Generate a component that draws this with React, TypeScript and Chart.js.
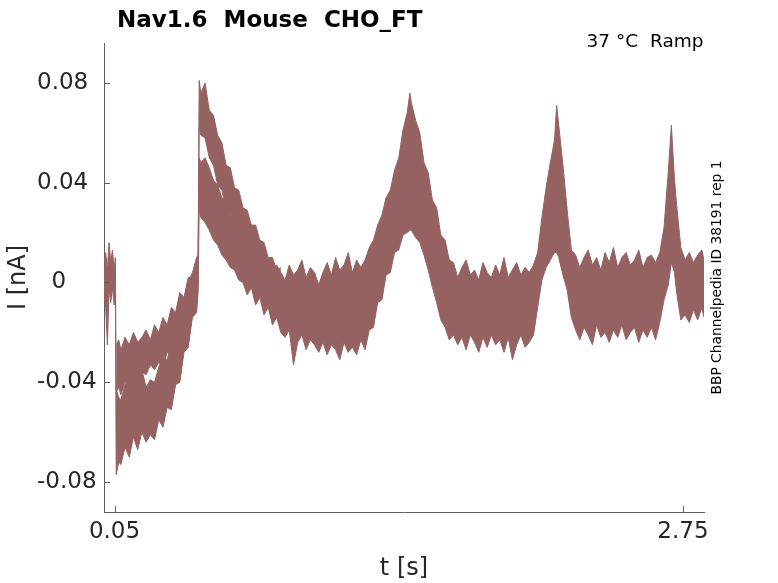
import React, { useEffect, useRef } from 'react';
import { Chart, registerables } from 'chart.js';

Chart.register(...registerables);

// Current traces: times in ms, currents in pA (converted to s / nA for the axes)
const mainTimeMs = [
  0, 8, 16, 24, 32, 40, 48, 54, 58, 70,
  80, 100, 120, 140, 160, 180, 200, 220, 240, 260,
  280, 300, 320, 340, 360, 380, 400, 420, 440, 447,
  452, 460, 480, 500, 520, 540, 560, 580, 600, 620,
  640, 660, 680, 700, 720, 740, 760, 780, 800, 820,
  840, 860, 880, 900, 920, 940, 960, 980, 1000, 1020,
  1040, 1060, 1080, 1100, 1120, 1140, 1160, 1180, 1200, 1220,
  1240, 1260, 1280, 1300, 1320, 1340, 1360, 1380, 1400, 1420,
  1440, 1453, 1460, 1480, 1500, 1520, 1540, 1560, 1580, 1600,
  1620, 1640, 1660, 1680, 1700, 1720, 1740, 1760, 1780, 1800,
  1820, 1840, 1860, 1880, 1900, 1920, 1940, 1960, 1980, 2000,
  2020, 2040, 2060, 2080, 2100, 2120, 2140, 2150, 2160, 2180,
  2200, 2220, 2240, 2260, 2280, 2300, 2320, 2340, 2360, 2380,
  2400, 2420, 2440, 2460, 2480, 2500, 2520, 2540, 2560, 2580,
  2600, 2620, 2640, 2660, 2680, 2695, 2710, 2720, 2740, 2760,
  2780, 2800, 2820, 2840, 2850,
];

// upper edge of the main bundle of sweeps (pA)
const mainTopPA = [
  8, 12, 5, 16, 8, 13, 5, 10, -43, -46,
  -47, -41, -40, -38, -39, -35, -42, -39, -40, -34,
  -30, -31, -24, -21, -13, -8, 0, 4, 10, 11,
  50, 48, 50, 46, 41, 39, 34, 32, 27, 27,
  22, 21, 17, 16, 12, 12, 8, 9, 6, 7,
  4, 1, 7, 3, 5, 9, 2, 6, 4, -1,
  4, 8, 3, 10, 5, 7, 12, 4, 9, 6,
  9, 14, 17, 23, 27, 34, 37, 45, 50, 61,
  68, 76, 72, 65, 60, 48, 44, 33, 30, 19,
  17, 9, 8, 2, 6, 9, 3, 5, 1, 8,
  4, 2, 7, 3, 10, 2, 5, 8, 3, 6,
  4, 7, 12, 26, 38, 48, 57, 71, 63, 47,
  29, 13, 11, 6, 10, 13, 7, 10, 5, 12,
  8, 14, 6, 10, 12, 7, 9, 13, 6, 10,
  11, 8, 12, 22, 44, 63, 41, 31, 14, 9,
  12, 8, 11, 13, 9,
];

// lower edge of the main bundle (pA)
const mainBottomPA = [
  -4, -10, -25, -3, -8, -2, -9, -5, -77, -72,
  -73, -66, -70, -62, -67, -60, -64, -61, -63, -55,
  -58, -50, -51, -41, -40, -28, -26, -14, -12, -4,
  29, 26, 24, 21, 17, 15, 11, 9, 6, 5,
  1, 0, -5, -2, -9, -6, -13, -10, -17, -14,
  -20, -22, -19, -33, -24, -21, -27, -23, -25, -28,
  -24, -29, -25, -27, -31, -24, -28, -26, -29, -23,
  -27, -19, -18, -8, -7, 3, 4, 12, 13, 19,
  20, 21, 21, 18, 16, 11, 5, -2, -8, -15,
  -18, -23, -21, -25, -22, -27, -21, -24, -28, -22,
  -26, -21, -25, -23, -28, -22, -31, -25, -21, -26,
  -24, -21, -10, 1, 6, 9, 12, 12, 10, 3,
  -3, -14, -19, -23, -18, -21, -25, -17, -22, -20,
  -24, -19, -22, -17, -23, -20, -18, -24, -19, -22,
  -18, -23, -16, -7, -1, 8, 4, -4, -15, -13,
  -16, -11, -15, -10, -14,
];

// second group of sweeps (separate band before / just after the step)
const groupTimeMs = [
  58, 70, 80, 100, 120, 140, 160, 180, 200, 220,
  240, 260, 280, 300, 320, 340, 360, 380, 400, 420,
  440, 447, 452, 460, 480, 500, 520, 540, 560, 580,
  600, 620, 640, 660, 680, 700, 720, 740, 760, 780,
  800, 820, 840,
];

const groupTopPA = [
  -25, -23, -27, -22, -25, -20, -24, -22, -19, -23,
  -17, -20, -14, -17, -10, -12, -4, -6, 2, 2,
  9, 10, 81, 76, 80, 69, 67, 59, 56, 47,
  46, 38, 37, 30, 29, 23, 23, 17, 16, 10,
  10, 5, 6,
];

const groupBottomPA = [
  -44, -42, -45, -40, -43, -38, -41, -36, -37, -33,
  -35, -32, -34, -28, -29, -22, -24, -16, -15, -6,
  -4, -1, 62, 59, 58, 50, 47, 39, 37, 29,
  28, 22, 22, 15, 16, 9, 10, 3, 4, -2,
  -2, -6, -5,
];

const xTickValues = [0.05, 2.75];
const xTickLabels = ['0.05', '2.75'];
const yTickValues = [-0.08, -0.04, 0, 0.04, 0.08];
const yTickLabels = ['-0.08', '-0.04', '  0', '0.04', '0.08'];

const traceColor = '#956161';
const axisColor = '#5f5f5f';
const labelColor = '#262626';
const fontFamily = '"DejaVu Sans", "Liberation Sans", sans-serif';

const toPoints = (times: number[], values: number[]) =>
  times.map((t, i) => ({ x: t / 1000, y: values[i] / 1000 }));

const annotations = {
  id: 'annotations',
  afterDraw(chart: any) {
    const { ctx, chartArea, scales } = chart;
    const xs = scales.x;
    const ys = scales.y;
    ctx.save();

    // MATLAB style ticks pointing into the axes
    ctx.strokeStyle = axisColor;
    ctx.lineWidth = 1;
    ctx.beginPath();
    yTickValues.forEach((v) => {
      const py = Math.round(ys.getPixelForValue(v)) + 0.5;
      ctx.moveTo(chartArea.left, py);
      ctx.lineTo(chartArea.left + 6, py);
    });
    xTickValues.forEach((v) => {
      const px = Math.round(xs.getPixelForValue(v)) + 0.5;
      ctx.moveTo(px, chartArea.bottom);
      ctx.lineTo(px, chartArea.bottom - 6);
    });
    ctx.stroke();

    ctx.fillStyle = '#000';
    ctx.textBaseline = 'alphabetic';

    ctx.font = `bold 23px ${fontFamily}`;
    ctx.textAlign = 'left';
    ctx.fillText('Nav1.6  Mouse  CHO_FT', 117, 27);

    ctx.font = `18.5px ${fontFamily}`;
    ctx.textAlign = 'right';
    ctx.fillText('37 °C  Ramp', 703.5, 47);

    ctx.fillStyle = labelColor;
    ctx.font = `24px ${fontFamily}`;
    ctx.textAlign = 'center';
    ctx.fillText('t [s]', (chartArea.left + chartArea.right) / 2, 575);

    ctx.save();
    ctx.translate(25, (chartArea.top + chartArea.bottom) / 2);
    ctx.rotate(-Math.PI / 2);
    ctx.fillText('I [nA]', 0, 0);
    ctx.restore();

    ctx.fillStyle = '#000';
    ctx.save();
    ctx.translate(721, 277.5);
    ctx.rotate(-Math.PI / 2);
    ctx.font = `13.8px ${fontFamily}`;
    ctx.textAlign = 'center';
    ctx.fillText('BBP Channelpedia ID 38191 rep 1', 0, 0);
    ctx.restore();

    ctx.restore();
  },
};

export default function App() {
  const canvasRef = useRef<HTMLCanvasElement>(null);

  useEffect(() => {
    if (!canvasRef.current) return;

    const band = (label: string, data: { x: number; y: number }[], fill: any) => ({
      label,
      data,
      borderColor: traceColor,
      backgroundColor: traceColor,
      borderWidth: 1,
      pointRadius: 0,
      tension: 0,
      fill,
    });

    const chart = new Chart(canvasRef.current, {
      type: 'line',
      data: {
        datasets: [
          band('sweeps top', toPoints(mainTimeMs, mainTopPA), '+1'),
          band('sweeps bottom', toPoints(mainTimeMs, mainBottomPA), false),
          band('group top', toPoints(groupTimeMs, groupTopPA), '+1'),
          band('group bottom', toPoints(groupTimeMs, groupBottomPA), false),
        ],
      },
      options: {
        responsive: false,
        animation: false,
        events: [],
        layout: { padding: { left: 37, top: 43, right: 74, bottom: 0 } },
        plugins: {
          legend: { display: false },
          tooltip: { enabled: false },
        },
        scales: {
          x: {
            type: 'linear',
            min: 0,
            max: 2.85,
            grid: { display: false, drawTicks: false },
            border: { display: true, color: axisColor, width: 1 },
            ticks: {
              autoSkip: false,
              maxRotation: 0,
              padding: 6,
              color: labelColor,
              font: { family: fontFamily, size: 23 },
              callback: (_v: any, i: number) => xTickLabels[i],
            },
            afterBuildTicks: (scale: any) => {
              scale.ticks = xTickValues.map((value) => ({ value }));
            },
            afterFit: (scale: any) => {
              scale.height = 71;
            },
          },
          y: {
            type: 'linear',
            min: -0.092,
            max: 0.096,
            grid: { display: false, drawTicks: false },
            border: { display: true, color: axisColor, width: 1 },
            ticks: {
              autoSkip: false,
              crossAlign: 'far',
              color: labelColor,
              font: { family: fontFamily, size: 23 },
              callback: (_v: any, i: number) => yTickLabels[i],
            },
            afterBuildTicks: (scale: any) => {
              scale.ticks = yTickValues.map((value) => ({ value }));
            },
            afterFit: (scale: any) => {
              scale.width = 67;
            },
          },
        },
      },
      plugins: [annotations],
    });

    return () => {
      chart.destroy();
    };
  }, []);

  return (
    <div style={{ position: 'absolute', left: 0, top: 0, width: 778, height: 583, background: '#fff' }}>
      <canvas ref={canvasRef} width={778} height={583} style={{ display: 'block' }} />
    </div>
  );
}
